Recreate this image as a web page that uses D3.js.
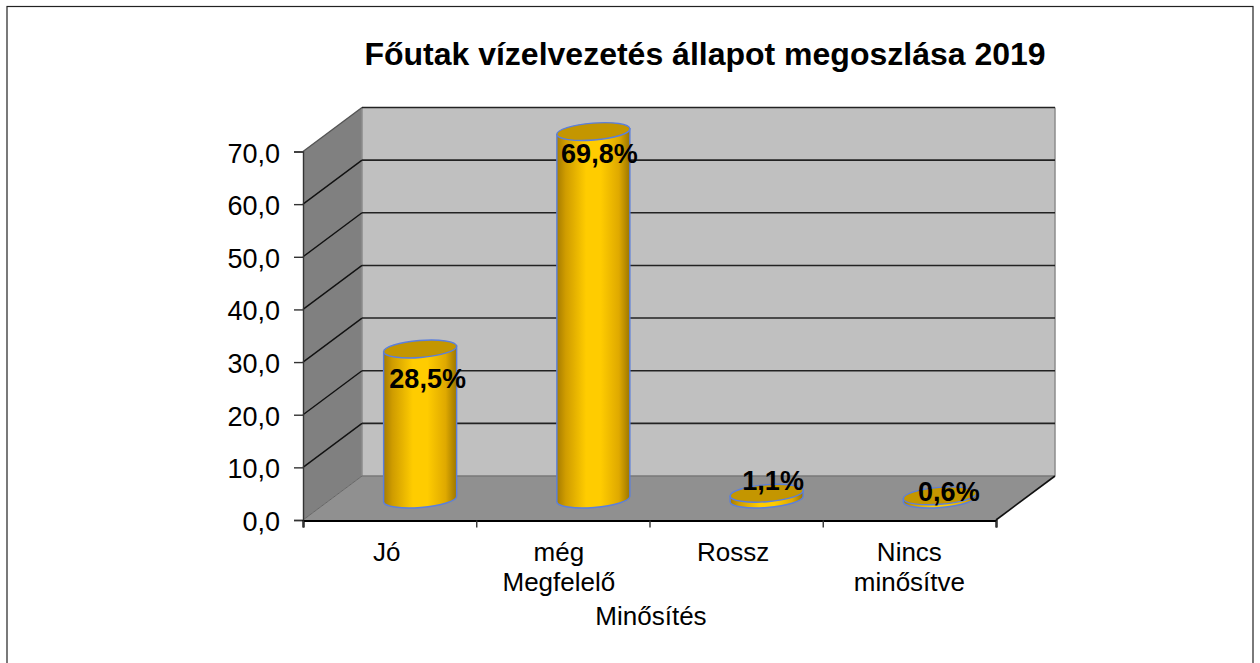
<!DOCTYPE html>
<html><head><meta charset="utf-8">
<script src="https://cdn.jsdelivr.net/npm/d3@7/dist/d3.min.js"></script>
<style>html,body{margin:0;padding:0;background:#fff}svg{display:block}text{font-family:"Liberation Sans",Arial,sans-serif;fill:#000}</style>
</head><body><svg id="c" width="1260" height="663"></svg>
<script>
const chartTitle = "Főutak vízelvezetés állapot megoszlása 2019";
const axisTitle = "Minősítés";
const categories = [["Jó"],["még","Megfelelő"],["Rossz"],["Nincs","minősítve"]];
const values = [28.5, 69.8, 1.1, 0.6];
const valueLabels = ["28,5%","69,8%","1,1%","0,6%"];
const yTicks = [0,10,20,30,40,50,60,70];

const svg = d3.select("#c");
const y = d3.scaleLinear().domain([0,70]).range([520,151.5]);
const x = d3.scaleBand().domain(d3.range(categories.length)).range([303,996]);
const dx = 59, dy = -44;

const defs = svg.append("defs");
const grad = defs.append("linearGradient").attr("id","cyl");
[[0,"#a67c00"],[0.12,"#cf9c00"],[0.4,"#ffcc00"],[0.6,"#ffcc00"],[0.85,"#dfa900"],[1,"#9c7600"]]
 .forEach(([o,c])=>grad.append("stop").attr("offset",o).attr("stop-color",c));

svg.append("rect").attr("x",7).attr("y",6.5).attr("width",1246).attr("height",670).attr("fill","#fff").attr("stroke","#222").attr("stroke-width",1.2);

const x0=x.range()[0], x1=x.range()[1], yb=y(0), yt=y(70);
svg.append("polygon").attr("points",[[x0,yb],[x0+dx,yb+dy],[x0+dx,yt+dy],[x0,yt]].join(" ")).attr("fill","#808080");
svg.append("rect").attr("x",x0+dx).attr("y",yt+dy).attr("width",x1-x0).attr("height",yb-yt).attr("fill","#c0c0c0");
svg.append("polygon").attr("points",[[x0,yb],[x1,yb],[x1+dx,yb+dy],[x0+dx,yb+dy]].join(" ")).attr("fill","#909090");
const gl = (a,b,c,w)=>svg.append("line").attr("x1",a[0]).attr("y1",a[1]).attr("x2",b[0]).attr("y2",b[1]).attr("stroke",c).attr("stroke-width",w);
gl([x0+dx,yt+dy],[x0+dx,yb+dy],"#8c8c8c",1.5);
gl([x0+dx,yb+dy],[x1+dx,yb+dy],"#787878",1.5);
gl([x1+dx,yt+dy],[x1+dx,yb+dy],"#8c8c8c",1.5);
yTicks.forEach(t=>{
  if(t>0){
    gl([x0,y(t)],[x0+dx,y(t)+dy],t===70?"#555":"#111",1.4);
    gl([x0+dx,y(t)+dy],[x1+dx,y(t)+dy],"#222",1.6);
  }
});
gl([x0,yb],[x0+dx,yb+dy],"#666",1);
gl([x1,yb],[x1+dx,yb+dy],"#111",1.6);
const yAxis = d3.axisLeft(y).tickValues(yTicks).tickSize(9).tickPadding(15).tickFormat(d=>d3.format(".1f")(d).replace(".",","));
const gy = svg.append("g").attr("transform",`translate(${x0},0)`).call(yAxis);
gy.selectAll("text").attr("font-size",27).attr("dy","0.39em").attr("dx",1);
gy.selectAll("path,line").attr("stroke","#333").attr("stroke-width",1.4);
const xAxis = d3.axisBottom(d3.scaleLinear().domain([0,4]).range([x0,x1])).tickValues([0,1,2,3,4]).tickSize(7).tickFormat("");
const gx = svg.append("g").attr("transform",`translate(0,${yb+0.5})`).call(xAxis);
gx.select("path").attr("stroke","#000").attr("stroke-width",2.2);
gx.selectAll("line").attr("stroke","#333").attr("stroke-width",1.4);
const catShift = [-3,-4,-3,0];
categories.forEach((lines,i)=>{
  const t = svg.append("text").attr("text-anchor","middle").attr("font-size",26);
  lines.forEach((s,j)=>t.append("tspan").attr("x",x(i)+x.bandwidth()/2+catShift[i]).attr("y",561+j*29.5).text(s));
});
svg.append("text").attr("x",651).attr("y",625).attr("text-anchor","middle").attr("font-size",26).text(axisTitle);
svg.append("text").attr("x",705).attr("y",65).attr("text-anchor","middle").attr("font-size",32).attr("font-weight",700).text(chartTitle);

const cylW = 73, baseY = 499, rot = -4.5, ry = 8.5;
const unit = y(0)-y(1);
const rad = cylW/2, rad0 = rot*Math.PI/180, tilt = Math.tan(rad0)*rad, rx = rad/Math.cos(rad0);
const barX = i => x(i)+x.bandwidth()/2+30.5;
values.forEach((v,i)=>{
  const cx = barX(i);
  const top = baseY-v*unit;
  const body = `M${cx-rad},${baseY-tilt} L${cx-rad},${top-tilt} L${cx+rad},${top+tilt} L${cx+rad},${baseY+tilt}`
   + ` A${rx},${ry} ${rot} 0 1 ${cx-rad},${baseY-tilt}Z`;
  const g = svg.append("g");
  g.append("path").attr("d",body).attr("fill","url(#cyl)").attr("stroke","#5b7fdc").attr("stroke-width",1.4);
  g.append("ellipse").attr("cx",cx).attr("cy",top).attr("rx",rx).attr("ry",ry)
   .attr("transform",`rotate(${rot} ${cx} ${top})`).attr("fill","#c49600").attr("stroke","#5b7fdc").attr("stroke-width",1.4);
});
const labelDX = [7.5,6,6.5,9], labelDY = [39,31.5,-3,5];
values.forEach((v,i)=>{
  svg.append("text").attr("x",barX(i)+labelDX[i]).attr("y",baseY-v*unit+labelDY[i]).attr("text-anchor","middle").attr("font-size",27).attr("font-weight",700).text(valueLabels[i]);
});
</script></body></html>
